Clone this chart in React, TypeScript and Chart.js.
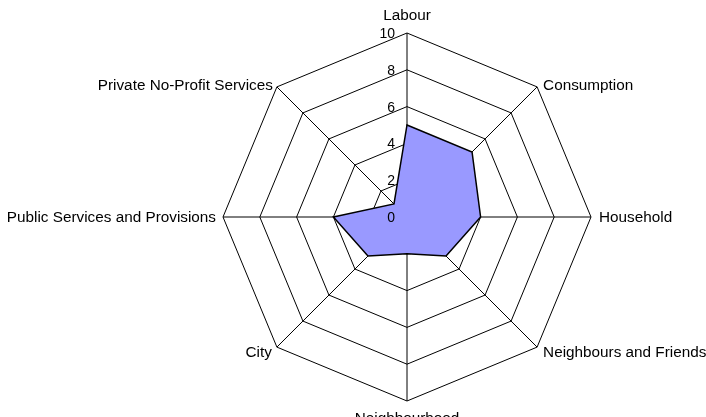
import React, { useEffect, useRef } from "react";
import { Chart, registerables } from "chart.js";

Chart.register(...registerables);

const categories = [
  "Labour",
  "Consumption",
  "Household",
  "Neighbours and Friends",
  "Neighbourhood",
  "City",
  "Public Services and Provisions",
  "Private No-Profit Services",
];
const seriesValues = [5, 5, 4, 3, 2, 3, 4, 1];
const tickValues = [0, 2, 4, 6, 8, 10];

const FONT = "Arial, 'Liberation Sans', sans-serif";

// per-label placement: [textAlign, dx, dy(baseline offset)]
const labelPlacement: [CanvasTextAlign, number, number][] = [
  ["center", 0, -13],
  ["left", 6, 3],
  ["left", 8, 5],
  ["left", 6, 10],
  ["center", 0, 22],
  ["right", -5, 10],
  ["right", -7, 5],
  ["right", -4, 3],
];

const labelPlugin = {
  id: "customLabels",
  afterDraw(chart: any) {
    const scale = chart.scales.r;
    const ctx = chart.ctx as CanvasRenderingContext2D;
    ctx.save();
    ctx.fillStyle = "#000";
    ctx.textBaseline = "alphabetic";
    ctx.font = `15.3px ${FONT}`;
    categories.forEach((label, i) => {
      const p = scale.getPointPosition(i, scale.drawingArea);
      const [align, dx, dy] = labelPlacement[i];
      ctx.textAlign = align;
      ctx.fillText(label, p.x + dx, p.y + dy);
    });
    ctx.font = `14px ${FONT}`;
    ctx.textAlign = "right";
    tickValues.forEach((v) => {
      const d = scale.getDistanceFromCenterForValue(v);
      ctx.fillText(String(v), scale.xCenter - 12, scale.yCenter - d + 5);
    });
    ctx.restore();
  },
};

export default function App() {
  const ref = useRef<HTMLCanvasElement>(null);
  useEffect(() => {
    if (!ref.current) return;
    const chart = new Chart(ref.current, {
      type: "radar",
      data: {
        labels: categories,
        datasets: [
          {
            data: seriesValues,
            backgroundColor: "#9999FF",
            borderColor: "#000000",
            borderWidth: 1.5,
            pointRadius: 0,
            fill: true,
          },
        ],
      },
      options: {
        responsive: false,
        animation: false,
        layout: { padding: { left: 223, right: 115, top: 33, bottom: 16 } },
        plugins: { legend: { display: false }, tooltip: { enabled: false } },
        scales: {
          r: {
            min: 0,
            max: 10,
            ticks: { display: false, stepSize: 2 },
            pointLabels: { display: false },
            grid: { color: "#000", lineWidth: 1, circular: false },
            angleLines: { color: "#000", lineWidth: 1 },
          },
        },
      },
      plugins: [labelPlugin],
    });
    return () => chart.destroy();
  }, []);
  return (
    <canvas
      ref={ref}
      width={706}
      height={417}
      style={{ position: "fixed", left: 0, top: 0, width: 706, height: 417 }}
    />
  );
}
